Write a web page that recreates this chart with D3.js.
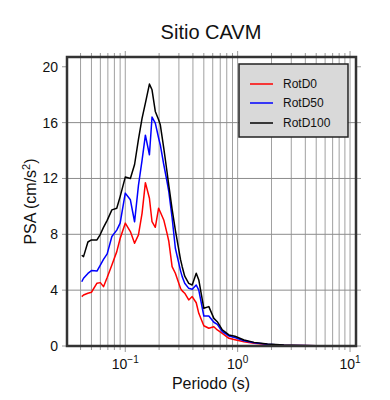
<!DOCTYPE html>
<html>
<head>
<meta charset="utf-8">
<script src="https://cdn.jsdelivr.net/npm/d3@7"></script>
<style>
  body { margin: 0; background: #fff; }
  text { font-family: "Liberation Sans", Arial, sans-serif; fill: #111; }
</style>
</head>
<body>
<div id="chart"></div>
<script>
var periods = [0.041, 0.0425, 0.0465, 0.050, 0.056, 0.060, 0.064, 0.069, 0.076, 0.084, 0.090,
    0.10, 0.111, 0.121, 0.131, 0.141, 0.151, 0.164, 0.173, 0.185, 0.198, 0.205, 0.22, 0.235,
    0.244, 0.261, 0.279, 0.31, 0.321, 0.338, 0.367, 0.394, 0.428, 0.451, 0.50, 0.554, 0.614,
    0.659, 0.73, 0.836, 0.946, 1.14, 1.40, 1.84, 2.58, 3.65, 5, 7, 10];
var rotD0 = [3.54, 3.65, 3.78, 3.85, 4.5, 4.54, 4.25, 4.9, 5.8, 6.76, 7.7,
    8.8, 8.2, 7.36, 7.96, 9.5, 11.7, 10.58, 8.9, 8.5, 9.87, 9.6, 9.03, 8.08,
    7.5, 5.68, 5.21, 4.13, 3.95, 3.78, 3.3, 3.54, 3.1, 2.34, 1.45, 1.27, 1.38,
    1.15, 0.91, 0.55, 0.45, 0.31, 0.19, 0.1, 0.05, 0.03, 0.018, 0.01, 0.006];
var rotD50 = [4.6, 4.85, 5.2, 5.4, 5.37, 5.8, 6.2, 6.6, 7.84, 8.3, 8.8,
    10.95, 10.47, 8.9, 11.5, 13.3, 15.1, 13.7, 16.4, 15.96, 14.9, 14.4, 13.0, 11.8,
    11.06, 9.2, 7.0, 5.4, 4.97, 4.5, 4.13, 4.06, 4.37, 4.0, 2.15, 2.15, 1.7,
    1.55, 1.03, 0.72, 0.6, 0.38, 0.23, 0.12, 0.06, 0.035, 0.02, 0.012, 0.008];
var rotD100 = [6.5, 6.4, 7.45, 7.6, 7.6, 8.0, 8.5, 9.0, 9.75, 9.87, 10.7,
    12.1, 12.0, 13.0, 14.8, 16.3, 17.4, 18.76, 18.35, 16.8, 16.2, 15.84, 14.17, 12.5,
    11.5, 9.8, 8.3, 6.2, 5.68, 5.0, 4.49, 4.37, 5.21, 4.73, 2.7, 2.82, 1.98,
    1.74, 1.15, 0.79, 0.7, 0.43, 0.26, 0.14, 0.07, 0.04, 0.025, 0.015, 0.01];
var seriesNames = ["RotD0", "RotD50", "RotD100"];
var seriesColors = ["#ff0000", "#0000ff", "#000000"];
var yTicks = [0, 4, 8, 12, 16, 20];
var yGrid = [4, 8, 12, 16];

var W = 390, H = 400;
var margin = {top: 57, right: 34, bottom: 54, left: 67};
var width = W - margin.left - margin.right,
    height = H - margin.top - margin.bottom;

var svg = d3.select("#chart").append("svg")
    .attr("width", W).attr("height", H);

var g = svg.append("g")
    .attr("transform", "translate(" + margin.left + "," + margin.top + ")");

var x = d3.scaleLog().domain([0.0303, 11.3]).range([0, width]);
var y = d3.scaleLinear().domain([0, 20.7]).range([height, 0]);

// minor positions for grid (2..9 x each decade)
var minor = [];
[0.01, 0.1, 1, 10].forEach(function(dec) {
    for (var k = 1; k <= 9; k++) {
        var v = dec * k;
        if (v >= x.domain()[0] && v <= x.domain()[1]) minor.push(v);
    }
});

// grid
g.append("g").selectAll("line").data(minor).enter().append("line")
    .attr("x1", d => x(d)).attr("x2", d => x(d))
    .attr("y1", 0).attr("y2", height)
    .style("stroke", "#a0a0a0").style("stroke-width", 1);
g.append("g").selectAll("line").data(yGrid).enter().append("line")
    .attr("x1", 0).attr("x2", width)
    .attr("y1", d => y(d)).attr("y2", d => y(d))
    .style("stroke", "#8c8c8c").style("stroke-width", 1);

// outside ticks
var tickColor = "#999";
g.append("g").selectAll("line").data(minor).enter().append("line")
    .attr("x1", d => x(d)).attr("x2", d => x(d))
    .attr("y1", height).attr("y2", d => height + ([0.1, 1, 10].indexOf(d) >= 0 ? 6 : 4))
    .style("stroke", tickColor);
g.append("g").selectAll("line").data(minor).enter().append("line")
    .attr("x1", d => x(d)).attr("x2", d => x(d))
    .attr("y1", 0).attr("y2", d => ([0.1, 1, 10].indexOf(d) >= 0 ? -6 : -4))
    .style("stroke", tickColor);
g.append("g").selectAll("line").data(yTicks).enter().append("line")
    .attr("x1", -5).attr("x2", 0)
    .attr("y1", d => y(d)).attr("y2", d => y(d))
    .style("stroke", tickColor);
g.append("g").selectAll("line").data(yTicks).enter().append("line")
    .attr("x1", width).attr("x2", width + 5)
    .attr("y1", d => y(d)).attr("y2", d => y(d))
    .style("stroke", tickColor);

// y tick labels
g.append("g").selectAll("text").data(yTicks).enter().append("text")
    .attr("x", -9).attr("y", d => y(d)).attr("dy", "0.35em")
    .attr("text-anchor", "end")
    .style("font-size", "14px")
    .text(d => d);

// x tick labels 10^n
var xLab = g.append("g").selectAll("text").data([-1, 0, 1]).enter().append("text")
    .attr("x", d => x(Math.pow(10, d))).attr("y", height + 23)
    .attr("text-anchor", "middle")
    .style("font-size", "14px");
xLab.append("tspan").text("10");
xLab.append("tspan").attr("dy", -6).style("font-size", "10px")
    .text(d => d < 0 ? "\u2212" + Math.abs(d) : d);

// lines
var line = d3.line()
    .x((d, i) => x(periods[i]))
    .y(d => y(d));
var clip = g.append("clipPath").attr("id", "clip")
    .append("rect").attr("width", width).attr("height", height);
[rotD0, rotD50, rotD100].forEach(function(s, i) {
    g.append("path").datum(s)
        .attr("d", line)
        .attr("clip-path", "url(#clip)")
        .style("fill", "none")
        .style("stroke", seriesColors[i])
        .style("stroke-width", 1.5)
        .style("stroke-linejoin", "round");
});

// frame
g.append("rect").attr("width", width).attr("height", height)
    .style("fill", "none").style("stroke", "#333").style("stroke-width", 2.5);

// legend
var lg = svg.append("g").attr("transform", "translate(239,64)");
lg.append("rect").attr("width", 109).attr("height", 73)
    .style("fill", "#d9d9d9").style("stroke", "#222").style("stroke-width", 1.5);
seriesNames.forEach(function(name, i) {
    var yy = 20 + i * 19 + (i == 2 ? 1 : 0);
    lg.append("line").attr("x1", 11).attr("x2", 34).attr("y1", yy).attr("y2", yy)
        .style("stroke", seriesColors[i]).style("stroke-width", 1.5);
    lg.append("text").attr("x", 44).attr("y", yy).attr("dy", "0.35em")
        .style("font-size", "12px").text(name);
});

// titles
svg.append("text").attr("x", 211).attr("y", 39)
    .attr("text-anchor", "middle").style("font-size", "20px").text("Sitio CAVM");
svg.append("text").attr("x", 211).attr("y", 389)
    .attr("text-anchor", "middle").style("font-size", "16px").text("Periodo (s)");
var yl = svg.append("text")
    .attr("transform", "translate(36," + (margin.top + height / 2) + ") rotate(-90)")
    .attr("text-anchor", "middle").style("font-size", "16px");
yl.append("tspan").text("PSA (cm/s");
yl.append("tspan").attr("dy", -6).style("font-size", "11px").text("2");
yl.append("tspan").attr("dy", 6).text(")");
</script>
</body>
</html>
